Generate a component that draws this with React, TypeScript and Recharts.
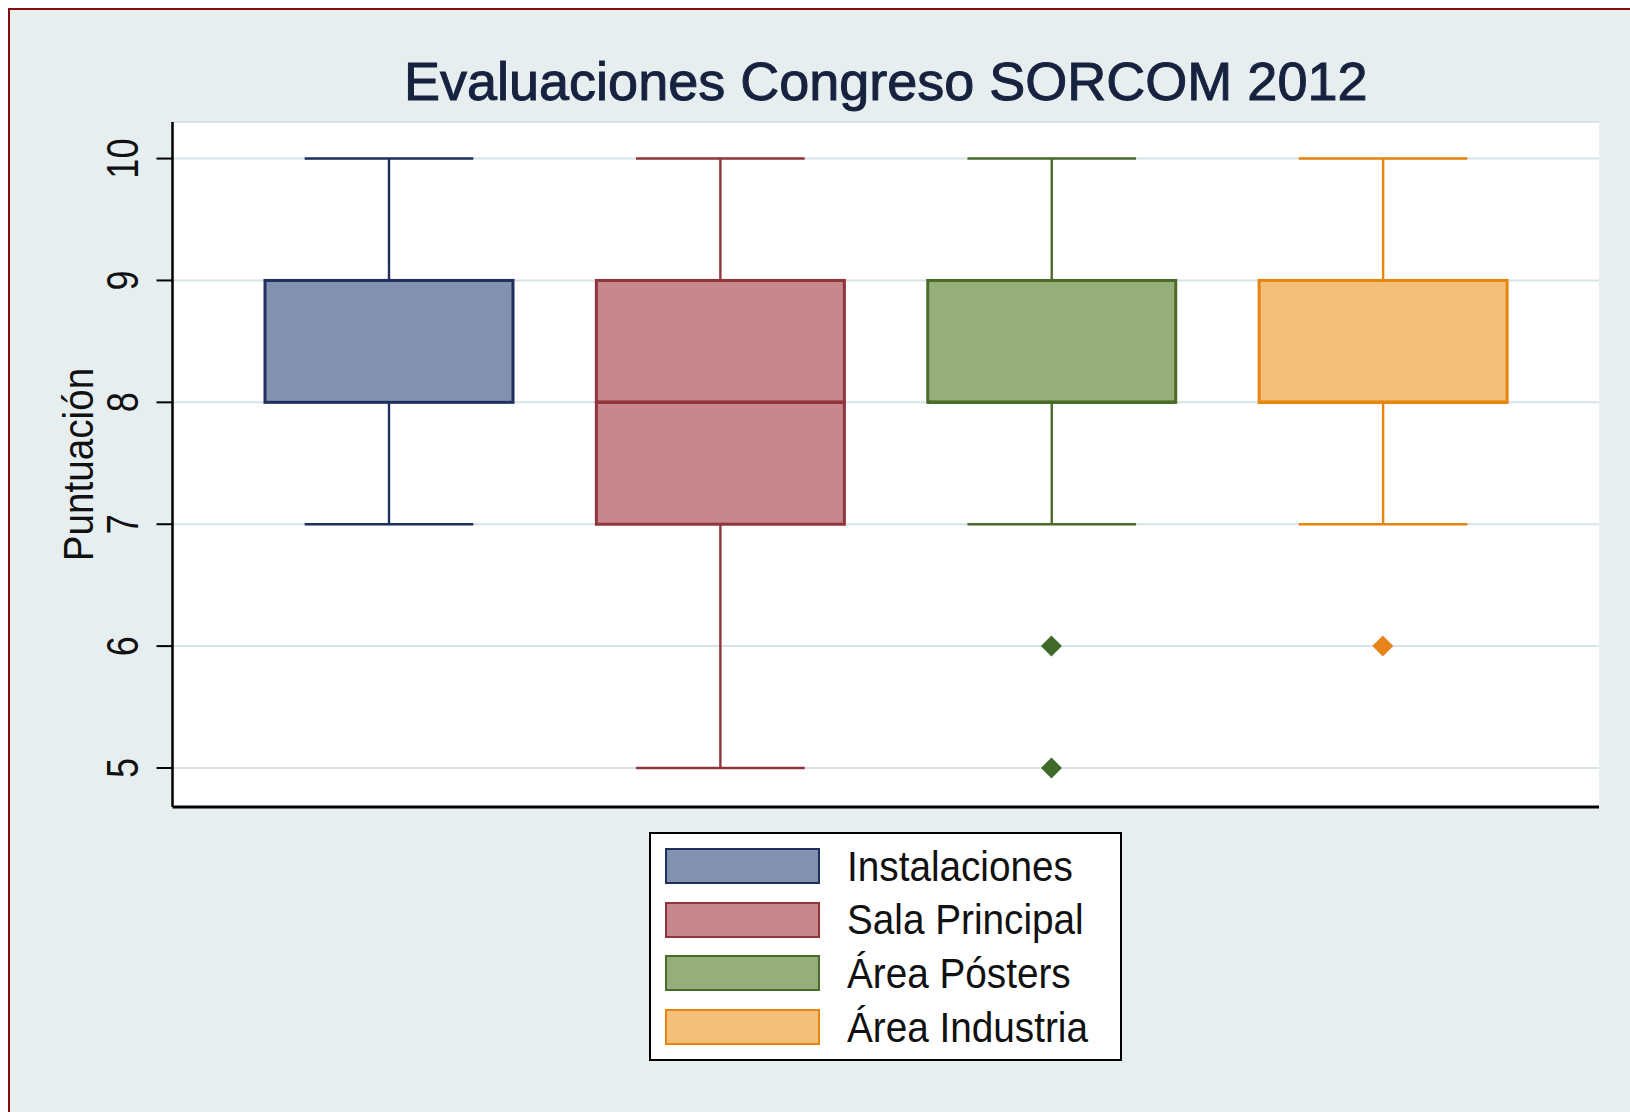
import { ComposedChart, Bar, Scatter, XAxis, YAxis, CartesianGrid, Label } from 'recharts'

// datos de las cajas
const categories = ['Instalaciones', 'Sala Principal', 'Área Pósters', 'Área Industria']
const mins = [7, 5, 7, 7]
const q1s = [8, 7, 8, 8]
const medians = [9, 8, 8, 8]
const q3s = [9, 9, 9, 9]
const maxs = [10, 10, 10, 10]

// valores atípicos
const outlierCats = ['Área Pósters', 'Área Pósters', 'Área Industria']
const outlierValues = [6, 5, 6]

const yTicks = [5, 6, 7, 8, 9, 10]

const FILLS = ['#8292ae', '#c6888d', '#95ae7a', '#f4bf7a']
const STROKES = ['#1f2f5e', '#90353b', '#4a6b2a', '#e6860e']
const OUTLIER_FILLS: Record<string, string> = {
  'Área Pósters': '#3f6a2a',
  'Área Industria': '#e8821a',
}

const SANS = "'Liberation Sans', Arial, sans-serif"
const CAP_RATIO = 0.68

const data = categories.map((name, i) => ({
  name,
  base: mins[i],
  lowW: q1s[i] - mins[i],
  lowBox: medians[i] - q1s[i],
  highBox: q3s[i] - medians[i],
  highW: maxs[i] - q3s[i],
}))

const outliers = outlierCats.map((name, i) => ({ name, value: outlierValues[i] }))

const Empty = () => <g />

const LowBox = (props: any) => {
  const { x, y, width, height, index } = props
  if (!height) return <g />
  return (
    <rect x={x} y={y} width={width} height={height}
      fill={FILLS[index]} stroke={STROKES[index]} strokeWidth={3} />
  )
}

// la parte alta dibuja también la mediana (borde inferior más grueso)
const HighBox = (props: any) => {
  const { x, y, width, height, index } = props
  if (!height) return <g />
  return (
    <g>
      <rect x={x} y={y} width={width} height={height}
        fill={FILLS[index]} stroke={STROKES[index]} strokeWidth={3} />
      <line x1={x} x2={x + width} y1={y + height} y2={y + height}
        stroke={STROKES[index]} strokeWidth={3.5} />
    </g>
  )
}

const makeWhisker = (cap: 'top' | 'bottom') => (props: any) => {
  const { x, y, width, height, index } = props
  if (!height) return <g />
  const cx = x + width / 2
  const capY = cap === 'top' ? y : y + height
  const half = (width * CAP_RATIO) / 2
  const c = STROKES[index]
  return (
    <g>
      <line x1={cx} x2={cx} y1={y} y2={y + height} stroke={c} strokeWidth={2.4} />
      <line x1={cx - half} x2={cx + half} y1={capY} y2={capY} stroke={c} strokeWidth={2.6} />
    </g>
  )
}

const Diamond = (props: any) => {
  const { cx, cy, payload } = props
  const r = 10.5
  return (
    <path d={`M${cx},${cy - r}L${cx + r},${cy}L${cx},${cy + r}L${cx - r},${cy}Z`}
      fill={OUTLIER_FILLS[payload.name]} />
  )
}

const YTick = (props: any) => {
  const { x, y, payload } = props
  const tx = x - 31
  return (
    <text x={0} y={0} transform={`translate(${tx} ${y}) rotate(-90) scale(0.82 1)`}
      textAnchor="middle" dominantBaseline="central" fontFamily={SANS} fontSize={44} fill="#111">
      {payload.value}
    </text>
  )
}

const YLabel = (props: any) => {
  const vb = props.viewBox
  const tx = vb.x + 15.5
  const ty = vb.y + vb.height / 2
  return (
    <text x={0} y={0} transform={`translate(${tx} ${ty}) rotate(-90) scale(0.92 1)`}
      textAnchor="middle" dominantBaseline="central" fontFamily={SANS} fontSize={42} fill="#111">
      Puntuación
    </text>
  )
}

export default function App() {
  return (
    <div style={{ position: 'fixed', left: 8, top: 8, width: 1622, height: 1104,
      borderTop: '2px solid #850d0d', borderLeft: '2px solid #850d0d',
      background: '#e6eef0', boxSizing: 'border-box', overflow: 'hidden' }}>
      <style>{'body{margin:0;overflow:hidden}'}</style>

      <div style={{ position: 'absolute', left: 162.5, width: 1426.5, top: 44,
        textAlign: 'center', fontFamily: SANS, fontSize: 54, lineHeight: '54px',
        color: '#17223f', WebkitTextStroke: '1px #17223f', whiteSpace: 'nowrap' }}>
        Evaluaciones Congreso SORCOM 2012
      </div>

      <ComposedChart width={1620} height={1100} data={data}
        margin={{ top: 112, right: 31, bottom: 301, left: 52.5 }}>
        <CartesianGrid vertical={false} fill="#ffffff" stroke="#d8e2e7" strokeWidth={2} />
        <XAxis dataKey="name" type="category" allowDuplicatedCategory={false}
          padding={{ left: 50.5, right: 50.5 }} height={2} tick={false} tickLine={false}
          axisLine={{ stroke: '#000', strokeWidth: 3 }} />
        <YAxis type="number" domain={[4.68, 10.3]} allowDataOverflow ticks={yTicks}
          interval={0} width={110} tickSize={16} tick={<YTick />}
          axisLine={{ stroke: '#000', strokeWidth: 2.5 }} tickLine={{ stroke: '#000', strokeWidth: 2 }}>
          <Label content={<YLabel />} />
        </YAxis>
        <Bar dataKey="base" stackId="b" barSize={248} shape={<Empty />} isAnimationActive={false} />
        <Bar dataKey="lowW" stackId="b" barSize={248} shape={makeWhisker('bottom')} isAnimationActive={false} />
        <Bar dataKey="lowBox" stackId="b" barSize={248} shape={<LowBox />} isAnimationActive={false} />
        <Bar dataKey="highBox" stackId="b" barSize={248} shape={<HighBox />} isAnimationActive={false} />
        <Bar dataKey="highW" stackId="b" barSize={248} shape={makeWhisker('top')} isAnimationActive={false} />
        <Scatter data={outliers} dataKey="value" shape={<Diamond />} isAnimationActive={false} />
      </ComposedChart>

      <div style={{ position: 'absolute', left: 639, top: 822, width: 473, height: 229,
        boxSizing: 'border-box', border: '2px solid #000', background: '#fff' }}>
        {categories.map((name, i) => (
          <div key={name} style={{ position: 'absolute', left: 14, top: 7 + i * 53.7, height: 50,
            display: 'flex', alignItems: 'center' }}>
            <div style={{ width: 155, height: 36, boxSizing: 'border-box', flex: 'none',
              background: FILLS[i], border: `2.5px solid ${STROKES[i]}` }} />
            <span style={{ marginLeft: 27, fontFamily: SANS, fontSize: 43, color: '#111',
              whiteSpace: 'nowrap', display: 'inline-block', transform: 'scaleX(0.9)',
              transformOrigin: 'left center' }}>{name}</span>
          </div>
        ))}
      </div>
    </div>
  )
}
